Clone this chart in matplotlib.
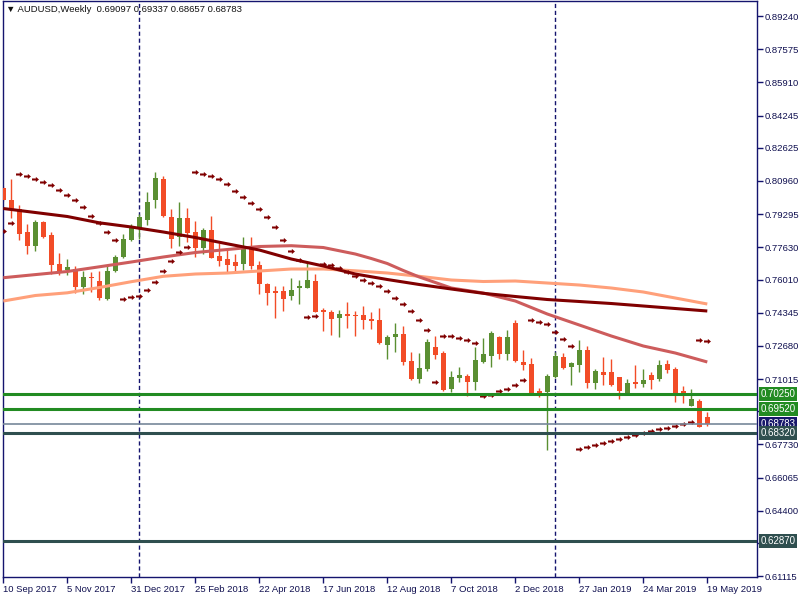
import matplotlib
matplotlib.use('Agg')
import matplotlib.pyplot as plt
from matplotlib.path import Path
from matplotlib.transforms import blended_transform_factory
import numpy as np

plt.rcParams['font.family'] = ['Liberation Sans', 'DejaVu Sans']

# ---------------- data ----------------
date_labels = ['10 Sep 2017', '5 Nov 2017', '31 Dec 2017', '25 Feb 2018', '22 Apr 2018',
               '17 Jun 2018', '12 Aug 2018', '7 Oct 2018', '2 Dec 2018', '27 Jan 2019',
               '24 Mar 2019', '19 May 2019']
label_bars = [0, 8, 16, 24, 32, 40, 48, 56, 64, 72, 80, 88]

opens = [0.8061, 0.8002, 0.7955, 0.7841, 0.7771, 0.7888, 0.7825, 0.7679, 0.7647, 0.7654,
         0.7564, 0.7612, 0.7594, 0.7503, 0.7644, 0.7714, 0.7801, 0.7855, 0.7900, 0.8002,
         0.8106, 0.7915, 0.7816, 0.7912, 0.7840, 0.7761, 0.7850, 0.7719, 0.7703, 0.7689,
         0.7681, 0.7769, 0.7674, 0.7579, 0.7544, 0.7544, 0.7520, 0.7560, 0.7560, 0.7594,
         0.7443, 0.7438, 0.7409, 0.7428, 0.7423, 0.7423, 0.7403, 0.7398, 0.7274, 0.7314,
         0.7328, 0.7192, 0.7103, 0.7153, 0.7262, 0.7232, 0.7053, 0.7108, 0.7117, 0.7088,
         0.7187, 0.7219, 0.7313, 0.7229, 0.7381, 0.7187, 0.7177, 0.7042, 0.7037, 0.7112,
         0.7212, 0.7164, 0.7174, 0.7247, 0.7083, 0.7137, 0.7137, 0.7112, 0.7028, 0.7087,
         0.7078, 0.7122, 0.7103, 0.7177, 0.7152, 0.7043, 0.6966, 0.6991, 0.69097]
highs = [0.8071, 0.8106, 0.7975, 0.7878, 0.7900, 0.7895, 0.7840, 0.7734, 0.7703, 0.7669,
         0.7644, 0.7640, 0.7644, 0.7674, 0.7724, 0.7828, 0.7878, 0.7929, 0.8042, 0.8142,
         0.8122, 0.7955, 0.7989, 0.7959, 0.7896, 0.7860, 0.7920, 0.7786, 0.7758, 0.7729,
         0.7815, 0.7815, 0.7696, 0.7584, 0.7570, 0.7569, 0.7609, 0.7599, 0.7683, 0.7629,
         0.7460, 0.7448, 0.7448, 0.7488, 0.7443, 0.7468, 0.7440, 0.7458, 0.7324, 0.7381,
         0.7368, 0.7236, 0.7231, 0.7304, 0.7318, 0.7241, 0.7143, 0.7164, 0.7127, 0.7261,
         0.7308, 0.7344, 0.7318, 0.7348, 0.7398, 0.7247, 0.7206, 0.7057, 0.7128, 0.7237,
         0.7231, 0.7189, 0.7298, 0.7267, 0.7150, 0.7214, 0.7201, 0.7113, 0.7102, 0.7174,
         0.7152, 0.7138, 0.7197, 0.7197, 0.7164, 0.7068, 0.7052, 0.7001, 0.69337]
lows = [0.7995, 0.7908, 0.7800, 0.7731, 0.7744, 0.7811, 0.7627, 0.7624, 0.7624, 0.7535,
        0.7530, 0.7537, 0.7500, 0.7500, 0.7640, 0.7711, 0.7795, 0.7805, 0.7875, 0.7959,
        0.7915, 0.7761, 0.7771, 0.7791, 0.7713, 0.7728, 0.7711, 0.7671, 0.7640, 0.7645,
        0.7649, 0.7654, 0.7530, 0.7475, 0.7409, 0.7443, 0.7498, 0.7477, 0.7560, 0.7438,
        0.7344, 0.7324, 0.7311, 0.7359, 0.7319, 0.7351, 0.7351, 0.7277, 0.7204, 0.7239,
        0.7174, 0.7097, 0.7083, 0.7143, 0.7204, 0.7043, 0.7038, 0.7088, 0.7018, 0.7047,
        0.7184, 0.7164, 0.7204, 0.7197, 0.7187, 0.7147, 0.7028, 0.7013, 0.6745, 0.7107,
        0.7150, 0.7073, 0.7138, 0.7058, 0.7053, 0.7070, 0.7067, 0.7003, 0.7028, 0.7058,
        0.7060, 0.7052, 0.7092, 0.7132, 0.6988, 0.6983, 0.6966, 0.6862, 0.68657]
closes = [0.8002, 0.7955, 0.7831, 0.7771, 0.7888, 0.7816, 0.7676, 0.7640, 0.7664, 0.7564,
          0.7614, 0.7609, 0.7510, 0.7644, 0.7714, 0.7805, 0.7865, 0.7915, 0.7989, 0.8109,
          0.7920, 0.7806, 0.7912, 0.7836, 0.7761, 0.7850, 0.7711, 0.7696, 0.7674, 0.7671,
          0.7763, 0.7671, 0.7580, 0.7535, 0.7535, 0.7505, 0.7549, 0.7569, 0.7599, 0.7440,
          0.7440, 0.7403, 0.7428, 0.7420, 0.7417, 0.7399, 0.7394, 0.7281, 0.7314, 0.7328,
          0.7189, 0.7102, 0.7157, 0.7288, 0.7224, 0.7048, 0.7112, 0.7122, 0.7088, 0.7197,
          0.7227, 0.7334, 0.7229, 0.7313, 0.7192, 0.7174, 0.7028, 0.7033, 0.7117, 0.7217,
          0.7157, 0.7184, 0.7247, 0.7083, 0.7140, 0.7123, 0.7072, 0.7043, 0.7082, 0.7078,
          0.7097, 0.7098, 0.7172, 0.7148, 0.7033, 0.7018, 0.7001, 0.6862, 0.68783]

# moving averages (read at sample bars)
ma_slow_bars = [0, 8, 12, 16, 20, 24, 28, 32, 36, 40, 44, 48, 52, 56, 60, 64, 68, 72, 76, 80, 84, 88]
ma_slow = [0.79576, 0.79175, 0.78858, 0.78648, 0.78397, 0.78121, 0.77804, 0.77493, 0.77041,
           0.76690, 0.76288, 0.76012, 0.75761, 0.75535, 0.75319, 0.75159, 0.75008, 0.74908,
           0.74807, 0.74682, 0.74556, 0.74431]
ma_mid_bars = [0, 8, 12, 16, 20, 24, 28, 32, 36, 40, 44, 46, 48, 50, 52, 56, 60, 64, 68, 72, 76, 80, 84, 88]
ma_mid = [0.76102, 0.76414, 0.76650, 0.76891, 0.77142, 0.77367, 0.77518, 0.77669, 0.77709,
          0.77618, 0.77292, 0.77066, 0.76815, 0.76464, 0.76138, 0.75585, 0.75334, 0.74933,
          0.74280, 0.73728, 0.73176, 0.72674, 0.72322, 0.71871]
ma_long_bars = [0, 4, 8, 12, 16, 20, 24, 28, 32, 36, 40, 44, 48, 52, 56, 60, 64, 68, 72, 76, 80, 84, 88]
ma_long = [0.74933, 0.75209, 0.75344, 0.75610, 0.75902, 0.76173, 0.76288, 0.76338, 0.76439,
           0.76539, 0.76539, 0.76449, 0.76338, 0.76173, 0.75987, 0.75912, 0.75937, 0.75836,
           0.75736, 0.75585, 0.75385, 0.75083, 0.74782]

sar = [0.78447, 0.78833, 0.81293, 0.81193, 0.81042, 0.80907, 0.80741, 0.80490, 0.80239, 0.79988,
       0.79637, 0.79185, 0.78833, 0.78382, 0.77980, 0.75018, 0.75119, 0.75209, 0.75470, 0.75872,
       0.76424, 0.76926, 0.77378, 0.77644, 0.81394, 0.81293, 0.81193, 0.81042, 0.80791, 0.80440,
       0.80139, 0.79837, 0.79536, 0.79135, 0.78633, 0.77980, 0.77428, 0.76976, 0.74115, 0.74165,
       0.76775, 0.76725, 0.76574, 0.76374, 0.76173, 0.75972, 0.75821, 0.75671, 0.75420, 0.75068,
       0.74767, 0.74416, 0.73964, 0.73462, 0.70852, 0.73161, 0.73161, 0.73060, 0.72960, 0.72809,
       0.70179, 0.70229, 0.70415, 0.70500, 0.70701, 0.70952, 0.73964, 0.73864, 0.73763, 0.73362,
       0.73010, 0.72659, 0.67488, 0.67589, 0.67689, 0.67789, 0.67890, 0.67990, 0.68091, 0.68191,
       0.68291, 0.68392, 0.68492, 0.68557, 0.68643, 0.68743, 0.68844, 0.72960, 0.72910]

level_prices = [0.70250, 0.69520, 0.68320, 0.62870]
level_colors = ['#228B22', '#228B22', '#2F4F4F', '#2F4F4F']
bid_price = 0.68783
separator_bars = [17, 69]
y_ticks = [0.89240, 0.87575, 0.85910, 0.84245, 0.82625, 0.80960, 0.79295, 0.77630, 0.76010,
           0.74345, 0.72680, 0.71015, 0.69395, 0.67730, 0.66065, 0.64400, 0.62780, 0.61115]
hidden_ticks = [0.69395, 0.62780]   # covered by the price boxes
title = '\u25BC AUDUSD,Weekly  0.69097 0.69337 0.68657 0.68783'

# ---------------- style ----------------
BULL = '#5A8F32'
BEAR = '#F24C27'
NAVY = '#14146E'
TXT = '#101050'

fig = plt.figure(figsize=(8, 6), dpi=100)
fig.patch.set_facecolor('white')
ax = fig.add_axes([2.5 / 800, 23 / 600, 754 / 800, 576 / 600])
ax.set_xlim(-0.1, 94.15)
ax.set_ylim(0.61078, 0.89993)

n = len(opens)
x = np.arange(n)
o = np.array(opens); h = np.array(highs); l = np.array(lows); c = np.array(closes)
up = c >= o
cols = np.where(up, BULL, BEAR)

# separators
for sb in separator_bars:
    ax.axvline(sb, color=NAVY, lw=1, ls=(0, (3, 2)), zorder=1)

# candles
ax.vlines(x, l, h, colors=cols, lw=1, zorder=2)
body_bottom = np.minimum(o, c)
body_h = np.maximum(np.abs(c - o), 0.0007)
ax.bar(x, body_h, bottom=body_bottom, width=0.66, color=cols, linewidth=0, zorder=3)

# moving averages
ax.plot(ma_long_bars, ma_long, color='#FFA07A', lw=2.2, zorder=4, solid_capstyle='butt')
ax.plot(ma_mid_bars, ma_mid, color='#CD5C5C', lw=2.2, zorder=4, solid_capstyle='butt')
ax.plot(ma_slow_bars, ma_slow, color='#800000', lw=2.2, zorder=4, solid_capstyle='butt')

# parabolic SAR arrows
verts = [(-1, -0.3), (0.1, -0.3), (0.1, -0.75), (1, 0), (0.1, 0.75), (0.1, 0.3), (-1, 0.3), (-1, -0.3)]
codes = [Path.MOVETO] + [Path.LINETO] * 6 + [Path.CLOSEPOLY]
sar_marker = Path(verts, codes)
ax.plot(x, sar, ls='none', marker=sar_marker, ms=5, color='#800000', mew=0, zorder=5)

# horizontal levels
ax.axhline(bid_price, color='#778899', lw=1.2, zorder=6)
for p, col in zip(level_prices, level_colors):
    ax.axhline(p, color=col, lw=2.2, zorder=6)

# axes styling
for s in ax.spines.values():
    s.set_color(NAVY)
    s.set_linewidth(1)
ax.yaxis.tick_right()
ax.set_yticks(y_ticks)
ax.set_yticklabels(['' if t in hidden_ticks else f'{t:.5f}' for t in y_ticks])
ax.tick_params(axis='y', direction='out', length=4, width=1, color=NAVY, pad=2,
               labelsize=6.8, labelcolor=TXT)
ax.set_xticks(label_bars)
ax.set_xticklabels(date_labels, ha='left')
ax.tick_params(axis='x', direction='out', length=4, width=1, color=NAVY, pad=2,
               labelsize=6.8, labelcolor=TXT)

# right-side price boxes
trans = blended_transform_factory(ax.transAxes, ax.transData)
boxes = [(0.70250, '#228B22'), (0.69520, '#228B22'), (bid_price, '#17176B'),
         (0.68320, '#2F4F4F'), (0.62870, '#2F4F4F')]
for p, col in boxes:
    ax.annotate(f'{p:.5f}', xy=(1, p), xycoords=trans, xytext=(4, 0), textcoords='offset pixels',
                ha='left', va='center', color='white', fontsize=7, zorder=10,
                annotation_clip=False,
                bbox=dict(boxstyle='square,pad=0.2', fc=col, ec='none'))

fig.text(6 / 800, 1 - 10 / 600, title, ha='left', va='center', fontsize=6.8, color='#111111')

fig.savefig('out.png', dpi=100, facecolor='white')
